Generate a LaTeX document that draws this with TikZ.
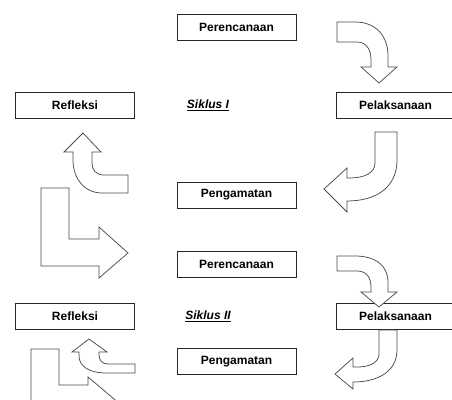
\documentclass[tikz,border=0pt]{standalone}
\usepackage{fontspec}
\setmainfont{Liberation Sans}
\begin{document}
\begin{tikzpicture}[x=1pt,y=-1pt,
  stagebox/.style={draw=black!85,line width=0.8pt,fill=white,minimum width=119pt,minimum height=26pt,inner sep=0pt,font=\fontsize{12}{14}\selectfont\bfseries},
  blockarrow/.style={draw=black!70,line width=0.75pt,fill=white,line join=miter},
  cyclelabel/.style={font=\fontsize{12}{14}\selectfont\bfseries\itshape,inner sep=0pt}]
\useasboundingbox (0,0) rectangle (452,399);
\clip (0,0) rectangle (452,399);

% ---------- Siklus I ----------
\node[stagebox] (per1) at (236.5,27) {Perencanaan};
\node[stagebox] (ref1) at (75,105) {Refleksi};
\node[stagebox] (pel1) at (395.5,105) {Pelaksanaan};
\node[stagebox] (pen1) at (236.5,195) {Pengamatan};
\node[cyclelabel] (sik1) at (208,105) {\underline{Siklus I}};

% arrow Perencanaan -> Pelaksanaan
\draw[blockarrow] (337,22) -- (355,22) .. controls (376,22) and (388,36) .. (388,56)
  -- (388,67) -- (397,67) -- (379,83) -- (361,67) -- (371,67) -- (371,60)
  .. controls (371,49) and (366,42) .. (357,42) -- (337,42) -- cycle;
% arrow Pelaksanaan -> Pengamatan
\draw[blockarrow] (375,132) -- (375,163) .. controls (375,173) and (364,178) .. (350,178)
  -- (347,178) -- (347,168) -- (324,189) -- (347,212) -- (347,201)
  .. controls (378,201) and (397,186) .. (397,160) -- (397,132) -- cycle;
% arrow Pengamatan -> Refleksi
\draw[blockarrow] (83,133) -- (101,152) -- (92,152) -- (92,163)
  .. controls (92,170) and (96,175) .. (104,175) -- (128,175) -- (128,193) -- (102,193)
  .. controls (84,193) and (73,178) .. (73,160) -- (73,152) -- (64,152) -- cycle;
% arrow Refleksi -> next cycle
\draw[blockarrow] (41,188) -- (69,188) -- (69,239) -- (99,239) -- (99,227) -- (128,253)
  -- (99,278) -- (99,266) -- (41,266) -- cycle;

% ---------- Siklus II ----------
\node[stagebox] (per2) at (236.5,264) {Perencanaan};
\node[stagebox] (ref2) at (75,316.5) {Refleksi};
\node[stagebox] (pel2) at (395.5,316.5) {Pelaksanaan};
\node[stagebox] (pen2) at (236.5,361.5) {Pengamatan};
\node[cyclelabel] (sik2) at (208,316) {\underline{Siklus II}};

% arrow Perencanaan -> Pelaksanaan (overlapping box)
\draw[blockarrow] (337,256) -- (355,256) .. controls (376,256) and (388,266) .. (388,282)
  -- (388,292) -- (397,292) -- (379,307) -- (361,292) -- (371,292) -- (371,287)
  .. controls (371,277) and (366,271) .. (357,271) -- (337,271) -- cycle;
% arrow Pelaksanaan -> Pengamatan
\draw[blockarrow] (379,330) -- (379,354) .. controls (379,362) and (370,367) .. (358,367)
  -- (353,367) -- (353,358) -- (335,374) -- (353,389) -- (353,382)
  .. controls (380,382) and (397,370) .. (397,350) -- (397,330) -- cycle;
% arrow Pengamatan -> Refleksi
\draw[blockarrow] (89,339) -- (107,352) -- (99,352) -- (99,355)
  .. controls (99,360) and (102,364) .. (108,364) -- (135,364) -- (135,373) -- (106,373)
  .. controls (89,373) and (79,366) .. (79,356) -- (79,352) -- (72,352) -- cycle;
% arrow Refleksi -> next
\draw[blockarrow] (31,349) -- (59,349) -- (59,385) -- (88,385) -- (88,377) -- (120,404)
  -- (88,430) -- (88,420) -- (31,420) -- cycle;
\end{tikzpicture}
\end{document}
